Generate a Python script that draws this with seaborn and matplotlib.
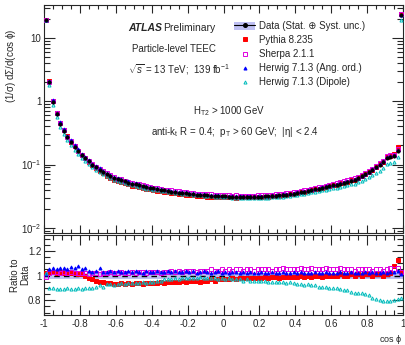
import numpy as np
import pandas as pd
import matplotlib
matplotlib.use("Agg")
import matplotlib.pyplot as plt
import seaborn as sns
from matplotlib.patches import Patch
from matplotlib.lines import Line2D
from matplotlib.ticker import MultipleLocator, LogLocator, FixedLocator, FixedFormatter, NullFormatter

# ---------------- data ----------------
bin_edges = np.round(np.linspace(-1.0, 1.0, 101), 2)
cos_phi = np.round(0.5 * (bin_edges[:-1] + bin_edges[1:]), 3)

data_teec = [
    19.0, 2.0, 0.97, 0.63, 0.44, 0.34, 0.27, 0.225, 0.19, 0.162,
    0.141, 0.125, 0.112, 0.100, 0.091, 0.083, 0.077, 0.071, 0.066, 0.062,
    0.059, 0.0565, 0.054, 0.052, 0.050, 0.0485, 0.047, 0.0455, 0.0442, 0.043,
    0.0419, 0.0409, 0.040, 0.0391, 0.0383, 0.0375, 0.0368, 0.0361, 0.0355, 0.0349,
    0.0344, 0.0339, 0.0335, 0.0331, 0.0328, 0.0325, 0.0322, 0.0319, 0.0317, 0.0315,
    0.0313, 0.0311, 0.0310, 0.0309, 0.0308, 0.0308, 0.0308, 0.0308, 0.0309, 0.0310,
    0.0311, 0.0313, 0.0315, 0.0318, 0.0321, 0.0325, 0.0329, 0.0334, 0.0340, 0.0347,
    0.0355, 0.0364, 0.0373, 0.0383, 0.0394, 0.0405, 0.0416, 0.0428, 0.0440, 0.0453,
    0.0467, 0.0482, 0.0498, 0.0515, 0.0535, 0.0557, 0.0580, 0.0610, 0.0650, 0.0700,
    0.0760, 0.0830, 0.0910, 0.100, 0.111, 0.128, 0.132, 0.135, 0.165, 23.0,
]
data_rel_unc = 0.025

ratio_pythia = [
    1.02, 1.03, 1.03, 1.02, 1.03, 1.02, 1.03, 1.02, 1.02, 1.01,
    1.01, 1.00, 0.98, 0.97, 0.96, 0.95, 0.95, 0.94, 0.94, 0.93,
    0.93, 0.94, 0.93, 0.94, 0.93, 0.94, 0.94, 0.93, 0.94, 0.94,
    0.94, 0.94, 0.95, 0.94, 0.95, 0.95, 0.95, 0.95, 0.96, 0.95,
    0.96, 0.96, 0.96, 0.95, 0.96, 0.96, 0.97, 0.96, 0.97, 0.97,
    0.97, 0.97, 0.98, 0.97, 0.98, 0.98, 0.98, 0.98, 0.98, 0.98,
    0.98, 0.99, 0.98, 0.99, 0.99, 0.98, 0.99, 0.99, 0.99, 0.99,
    0.99, 1.00, 0.99, 1.00, 0.99, 1.00, 1.00, 0.99, 1.00, 1.00,
    1.00, 1.00, 1.01, 1.00, 1.00, 1.01, 1.00, 1.01, 1.00, 1.01,
    1.01, 1.00, 1.01, 1.01, 1.00, 1.01, 1.02, 1.08, 1.13, 1.03,
]
ratio_sherpa = [
    0.99, 1.02, 1.03, 1.03, 1.02, 1.03, 1.02, 1.03, 1.02, 1.02,
    1.02, 1.02, 1.01, 1.02, 1.02, 1.01, 1.02, 1.02, 1.03, 1.02,
    1.02, 1.03, 1.02, 1.02, 1.03, 1.02, 1.03, 1.03, 1.02, 1.03,
    1.03, 1.03, 1.02, 1.03, 1.03, 1.04, 1.03, 1.04, 1.03, 1.04,
    1.04, 1.04, 1.03, 1.04, 1.04, 1.04, 1.05, 1.04, 1.04, 1.05,
    1.04, 1.05, 1.04, 1.05, 1.05, 1.04, 1.05, 1.05, 1.04, 1.05,
    1.05, 1.05, 1.05, 1.04, 1.05, 1.05, 1.06, 1.05, 1.05, 1.05,
    1.05, 1.06, 1.05, 1.05, 1.06, 1.05, 1.05, 1.05, 1.06, 1.05,
    1.05, 1.05, 1.06, 1.05, 1.05, 1.05, 1.04, 1.05, 1.05, 1.05,
    1.05, 1.04, 1.05, 1.05, 1.04, 1.05, 1.06, 1.05, 1.06, 1.03,
]
ratio_herwig_ang = [
    1.01, 1.05, 1.06, 1.05, 1.06, 1.06, 1.05, 1.07, 1.06, 1.08,
    1.05, 1.06, 1.04, 1.03, 1.04, 1.06, 1.03, 1.03, 1.04, 1.03,
    1.04, 1.03, 1.03, 1.04, 1.03, 1.04, 1.03, 1.02, 1.04, 1.03,
    1.03, 1.04, 1.03, 1.03, 1.04, 1.03, 1.04, 1.03, 1.03, 1.04,
    1.03, 1.04, 1.02, 1.03, 1.04, 1.03, 1.02, 1.03, 1.04, 1.02,
    1.03, 1.02, 1.03, 1.03, 1.02, 1.03, 1.02, 1.03, 1.02, 1.02,
    1.03, 1.02, 1.02, 1.03, 1.02, 1.02, 1.03, 1.02, 1.02, 1.03,
    1.02, 1.03, 1.02, 1.02, 1.02, 1.03, 1.02, 1.02, 1.03, 1.02,
    1.02, 1.02, 1.03, 1.02, 1.02, 1.03, 1.02, 1.02, 1.02, 1.03,
    1.02, 1.03, 1.02, 1.02, 1.03, 1.02, 1.03, 1.03, 1.04, 1.01,
]
ratio_herwig_dip = [
    1.02, 0.90, 0.90, 0.89, 0.89, 0.89, 0.90, 0.89, 0.89, 0.90,
    0.89, 0.90, 0.90, 0.90, 0.91, 0.92, 0.91, 0.93, 0.93, 0.92,
    0.93, 0.94, 0.93, 0.94, 0.94, 0.94, 0.94, 0.95, 0.94, 0.95,
    0.95, 0.96, 0.96, 0.97, 0.97, 0.97, 0.98, 0.97, 0.98, 0.98,
    0.98, 0.98, 0.98, 0.99, 0.98, 0.98, 0.98, 0.98, 0.97, 0.98,
    0.97, 0.98, 0.97, 0.97, 0.97, 0.96, 0.97, 0.96, 0.96, 0.96,
    0.96, 0.96, 0.95, 0.95, 0.95, 0.95, 0.95, 0.94, 0.95, 0.94,
    0.93, 0.93, 0.92, 0.93, 0.92, 0.92, 0.91, 0.91, 0.91, 0.90,
    0.90, 0.90, 0.89, 0.88, 0.88, 0.87, 0.86, 0.86, 0.86, 0.85,
    0.84, 0.82, 0.81, 0.80, 0.79, 0.79, 0.79, 0.80, 0.81, 0.82,
]

series_labels = ["Pythia 8.235", "Sherpa 2.1.1", "Herwig 7.1.3 (Ang. ord.)", "Herwig 7.1.3 (Dipole)"]
data_label = "Data (Stat. \u2295 Syst. unc.)"
xtick_vals = [-1, -0.8, -0.6, -0.4, -0.2, 0, 0.2, 0.4, 0.6, 0.8, 1]
xtick_labels = ["-1", "-0.8", "-0.6", "-0.4", "-0.2", "0", "0.2", "0.4", "0.6", "0.8", "1"]
ytick_vals = [0.01, 0.1, 1, 10]
ytick_labels = [r"$10^{-2}$", r"$10^{-1}$", "1", "10"]
rtick_vals = [0.8, 1.0, 1.2]
rtick_labels = ["0.8", "1", "1.2"]

# ---------------- style ----------------
sns.set_theme(style="ticks")
plt.rcParams['font.family'] = ['Liberation Sans', 'DejaVu Sans']
plt.rcParams['mathtext.fontset'] = 'custom'
plt.rcParams['mathtext.rm'] = 'Liberation Sans'
plt.rcParams['mathtext.it'] = 'Liberation Sans:italic'
plt.rcParams['mathtext.bf'] = 'Liberation Sans:bold'
FS = 7
MS = 2.2

colors = ["#ff0000", "#e000e0", "#0000ff", "#00bcbc"]
markers = ["s", "s", "^", "^"]
filled = [True, False, True, False]
band_color = "#bfc0f3"

data = np.array(data_teec)
ratios = [np.array(r) for r in (ratio_pythia, ratio_sherpa, ratio_herwig_ang, ratio_herwig_dip)]

df = pd.DataFrame({"cos_phi": cos_phi, "data": data})
for lab, r in zip(series_labels, ratios):
    df[lab] = data * r
    df[lab + " ratio"] = r

W, H = 405, 345
fig = plt.figure(figsize=(W / 100, H / 100), dpi=100)
ax = fig.add_axes([44 / W, 1 - 233 / H, 359 / W, 228 / H])
rax = fig.add_axes([44 / W, 1 - 315 / H, 359 / W, 80 / H])

# ---------------- main panel ----------------
ax.fill_between(bin_edges, np.append(data, data[-1]) * (1 - data_rel_unc),
                np.append(data, data[-1]) * (1 + data_rel_unc), step="post",
                color=band_color, lw=0, zorder=1)
for lab, c, m, f in zip(series_labels, colors, markers, filled):
    sns.lineplot(data=df, x="cos_phi", y=lab, ax=ax, linestyle="", marker=m,
                 markersize=MS, color=c, markeredgecolor=c,
                 markerfacecolor=c if f else "none", markeredgewidth=0.7,
                 errorbar=None, zorder=3)
ax.errorbar(df["cos_phi"], df["data"], yerr=df["data"] * data_rel_unc, fmt="none",
            ecolor="black", elinewidth=0.7, zorder=4)
sns.lineplot(data=df, x="cos_phi", y="data", ax=ax, linestyle="", marker="o",
             markersize=2.6, color="black", markeredgecolor="black",
             markeredgewidth=0.3, errorbar=None, zorder=5)

ax.set_yscale("log")
ax.set_xlim(-1, 1)
ax.set_ylim(0.0083, 33)
ax.yaxis.set_major_locator(FixedLocator(ytick_vals))
ax.yaxis.set_major_formatter(FixedFormatter(ytick_labels))
ax.yaxis.set_minor_locator(LogLocator(base=10, subs=np.arange(2, 10), numticks=20))
ax.yaxis.set_minor_formatter(NullFormatter())
ax.xaxis.set_major_locator(FixedLocator(xtick_vals))
ax.xaxis.set_minor_locator(MultipleLocator(0.05))
ax.set_xticklabels([])
ax.set_xlabel("")
ax.set_ylabel("")
ax.tick_params(axis="both", which="both", direction="in", top=True, right=True,
               labelsize=FS, width=0.8, pad=2)
ax.tick_params(axis="y", which="major", length=8)
ax.tick_params(axis="y", which="minor", length=4)
ax.tick_params(axis="x", which="major", length=6)
ax.tick_params(axis="x", which="minor", length=3)
for s in ax.spines.values():
    s.set_linewidth(0.8)

# legend
data_handle = (Patch(facecolor=band_color, edgecolor="none"),
               Line2D([], [], color="black", marker="o", markersize=2.6, lw=0.8))
handles = [data_handle]
for c, m, f in zip(colors, markers, filled):
    handles.append(Line2D([], [], linestyle="", marker=m, markersize=MS, color=c,
                          markeredgecolor=c, markerfacecolor=c if f else "none",
                          markeredgewidth=0.7))
leg = ax.legend(handles, [data_label] + series_labels, loc="upper left",
                bbox_to_anchor=(234 / W, 1 - 21 / H), bbox_transform=fig.transFigure,
                frameon=False, fontsize=FS, handlelength=2.2, handleheight=0.85,
                handletextpad=0.4, labelspacing=0.42, borderpad=0, borderaxespad=0)

# annotations
fig.text(128 / W, 1 - 28 / H, "ATLAS", fontsize=FS + 0.5, fontweight="bold",
         fontstyle="italic", va="center", ha="left")
fig.text(163 / W, 1 - 28 / H, "Preliminary", fontsize=FS + 0.5, va="center", ha="left")
fig.text(132 / W, 1 - 49 / H, "Particle-level TEEC", fontsize=FS, va="center", ha="left")
fig.text(128 / W, 1 - 70 / H, r"$\sqrt{s}$ = 13 TeV;  139 fb$^{-1}$", fontsize=FS,
         va="center", ha="left")
fig.text(193 / W, 1 - 111 / H, r"H$_{\mathrm{T2}}$ > 1000 GeV", fontsize=FS,
         va="center", ha="left")
fig.text(151 / W, 1 - 132 / H,
         r"anti-k$_{\mathrm{t}}$ R = 0.4;  p$_{\mathrm{T}}$ > 60 GeV;  |$\mathrm{\eta}$| < 2.4",
         fontsize=FS, va="center", ha="left")
fig.text(11 / W, 1 - 66 / H, r"(1/$\mathrm{\sigma}$) d$\mathrm{\Sigma}$/d(cos $\mathrm{\phi}$)",
         fontsize=FS, rotation=90, va="center", ha="center")

# ---------------- ratio panel ----------------
ones = np.ones(len(bin_edges))
rax.fill_between(bin_edges, ones * (1 - data_rel_unc), ones * (1 + data_rel_unc),
                 color=band_color, lw=0, zorder=1)
rax.axhline(1.0, color="black", lw=1.0, ls=(0, (4, 3)), zorder=2)
for lab, c, m, f in zip(series_labels, colors, markers, filled):
    sns.lineplot(data=df, x="cos_phi", y=lab + " ratio", ax=rax, linestyle="",
                 marker=m, markersize=MS, color=c, markeredgecolor=c,
                 markerfacecolor=c if f else "none", markeredgewidth=0.7,
                 errorbar=None, zorder=3)
rax.set_xlim(-1, 1)
rax.set_ylim(0.68, 1.33)
rax.xaxis.set_major_locator(FixedLocator(xtick_vals))
rax.xaxis.set_major_formatter(FixedFormatter(xtick_labels))
rax.xaxis.set_minor_locator(MultipleLocator(0.05))
rax.yaxis.set_major_locator(FixedLocator(rtick_vals))
rax.yaxis.set_major_formatter(FixedFormatter(rtick_labels))
rax.yaxis.set_minor_locator(MultipleLocator(0.05))
rax.set_xlabel("")
rax.set_ylabel("")
rax.tick_params(axis="both", which="both", direction="in", top=True, right=True,
                labelsize=FS, width=0.8, pad=2)
rax.tick_params(axis="y", which="major", length=8)
rax.tick_params(axis="y", which="minor", length=4)
rax.tick_params(axis="x", which="major", length=7)
rax.tick_params(axis="x", which="minor", length=3.5)
rax.tick_params(axis="x", which="major", pad=3)
for s in rax.spines.values():
    s.set_linewidth(0.8)

fig.text(20 / W, 1 - 275 / H, "Ratio to\nData", fontsize=FS, rotation=90,
         va="center", ha="center", linespacing=1.0)
fig.text(402 / W, 1 - 340 / H, r"cos $\mathrm{\phi}$", fontsize=FS - 0.5,
         va="center", ha="right")

fig.savefig("out.png", dpi=100)
